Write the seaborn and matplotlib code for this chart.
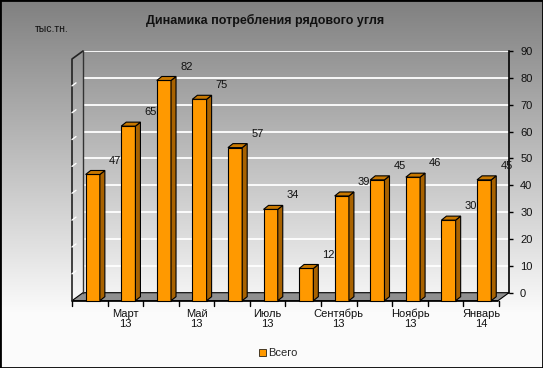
import numpy as np
import pandas as pd
import matplotlib
matplotlib.use("Agg")
import matplotlib.pyplot as plt
import matplotlib.transforms as mtransforms
from matplotlib.patches import Polygon, Rectangle, Patch
from matplotlib.lines import Line2D
import seaborn as sns

# ---------------- data ----------------
months = ["Февраль\n13", "Март\n13", "Апрель\n13", "Май\n13", "Июнь\n13", "Июль\n13",
          "Август\n13", "Сентябрь\n13", "Октябрь\n13", "Ноябрь\n13", "Декабрь\n13", "Январь\n14"]
values = [47, 65, 82, 75, 57, 34, 12, 39, 45, 46, 30, 45]
shown_months = [1, 3, 5, 7, 9, 11]          # every other month label is shown
y_ticks = list(range(0, 100, 10))
title = "Динамика потребления рядового угля"
unit_label = "тыс.тн."
series_name = "Всего"

sns.set_theme(style="white")
plt.rcParams["font.family"] = ["Liberation Sans", "DejaVu Sans"]

W, H, DPI = 543, 368, 100
fig = plt.figure(figsize=(W / DPI, H / DPI), dpi=DPI)

# background gradient
bg = fig.add_axes([0, 0, 1, 1], zorder=-10)
yy = np.linspace(0, 1, 368)
shade = 128 + (251 - 128) * np.clip(yy / 0.85, 0, 1)
img = np.repeat((shade / 255.0)[:, None], 2, axis=1)
bg.imshow(np.dstack([img, img, img]), aspect="auto", extent=[0, 1, 0, 1], origin="upper")
bg.set_axis_off()

# back wall axes
L, R, T, B = 83, 509, 51, 292.7
ax = fig.add_axes([L / W, (H - B) / H, (R - L) / W, (B - T) / H])
ax.patch.set_alpha(0)

df = pd.DataFrame({"month": months, "value": values})
sns.barplot(data=df, x="month", y="value", color="#FF9900", width=0.40,
            edgecolor="black", linewidth=0.8, saturation=1, ax=ax, zorder=5)

xlim = (-0.583, 11.39)
ax.set_xlim(*xlim)
ax.set_ylim(0, 90)
ax.set_xlabel("")
ax.set_ylabel("")
ax.set_xticks([])
ax.yaxis.tick_right()
ax.set_yticks(y_ticks)
ax.tick_params(axis="y", right=True, length=3, width=1, color="black", pad=5,
               labelsize=8, labelcolor="#111111", direction="out")
ax.grid(axis="y", color="white", lw=1.3, zorder=0)
ax.grid(axis="x", visible=False)
for s in ["top", "bottom"]:
    ax.spines[s].set_visible(False)
ax.spines["right"].set_color("black")
ax.spines["right"].set_linewidth(1.2)
ax.spines["left"].set_color("#333333")
ax.spines["left"].set_linewidth(1.0)

# pixel scale
pxx = (R - L) / (xlim[1] - xlim[0])
pxy = (B - T) / 90.0
DX, DY = 11, 8                     # depth of the floor (px)
ddx, ddy = DX / pxx, DY / pxy       # in data units
bdx, bdy = 5 / pxx, 4 / pxy         # bar depth in data units

front = ax.transData + mtransforms.ScaledTranslation(-DX / DPI, -DY / DPI, fig.dpi_scale_trans)

# floor
floor = Polygon([(xlim[0], 0), (xlim[1], 0), (xlim[1] - ddx, -ddy), (xlim[0] - ddx, -ddy)],
                closed=True, facecolor="#8f8f8f", edgecolor="black", lw=0.8,
                transform=ax.transData, clip_on=False, zorder=1)
ax.add_patch(floor)
ax.add_line(Line2D([xlim[0] - ddx, xlim[1] - ddx], [-ddy, -ddy], color="black", lw=1.2,
                   transform=ax.transData, clip_on=False, zorder=2))
# left wall edges
ax.add_line(Line2D([xlim[0] - ddx, xlim[0] - ddx, xlim[0]], [-ddy, 90 - ddy, 90],
                   color="#222222", lw=1.2, transform=ax.transData, clip_on=False, zorder=2))
for v in y_ticks[1:-1]:
    ax.add_line(Line2D([xlim[0] - ddx, xlim[0] - ddx + 4 / pxx], [v - ddy, v - ddy + 3 / pxy],
                       color="white", lw=1.0, transform=ax.transData, clip_on=False, zorder=2))
# front tick marks
for k in range(13):
    xk = xlim[0] + k * 1.0
    ax.add_line(Line2D([xk, xk], [0, -5 / pxy], color="black", lw=1.0,
                       transform=front, clip_on=False, zorder=2))

# bars: move to front plane and add side/top faces
for p in ax.patches:
    if p is floor:
        continue
    x0, y0 = p.get_x(), p.get_y()
    w, h = p.get_width(), p.get_height()
    p.set_transform(front)
    p.set_clip_on(False)
    side = Polygon([(x0 + w, y0), (x0 + w + bdx, y0 + bdy), (x0 + w + bdx, y0 + h + bdy), (x0 + w, y0 + h)],
                   closed=True, facecolor="#A86200", edgecolor="black", lw=0.8,
                   transform=front, clip_on=False, zorder=5)
    top = Polygon([(x0, y0 + h), (x0 + w, y0 + h), (x0 + w + bdx, y0 + h + bdy), (x0 + bdx, y0 + h + bdy)],
                  closed=True, facecolor="#C87800", edgecolor="black", lw=0.8,
                  transform=front, clip_on=False, zorder=5)
    ax.add_patch(side)
    ax.add_patch(top)

# data labels
for i, v in enumerate(values):
    ax.text(i + 0.32, v + 2.2, str(v), ha="center", va="center", fontsize=8,
            color="#111111", zorder=6, clip_on=False)

# category labels
lab_tr = front + mtransforms.ScaledTranslation(-3 / DPI, -8 / DPI, fig.dpi_scale_trans)
for i in shown_months:
    ax.text(i, 0, months[i], transform=lab_tr, ha="center", va="top", fontsize=8,
            color="#111111", linespacing=1.0, clip_on=False)

fig.text(265 / W, 1 - 20 / H, title, ha="center", va="center", fontsize=9,
         fontweight="bold", color="#111111")
fig.text(35 / W, 1 - 29 / H, unit_label, ha="left", va="center", fontsize=7.5, color="#111111")

fig.legend(handles=[Patch(facecolor="#FF9900", edgecolor="black", lw=0.5)], labels=[series_name],
           loc="center", bbox_to_anchor=(278 / W, 1 - 353 / H), frameon=False,
           handlelength=0.6, handleheight=0.6, handletextpad=0.2, fontsize=8)

fig.add_artist(Rectangle((0, 0), 1, 1, transform=fig.transFigure, fill=False,
                         edgecolor="black", lw=2, zorder=20))

fig.savefig("out.png", dpi=DPI)
